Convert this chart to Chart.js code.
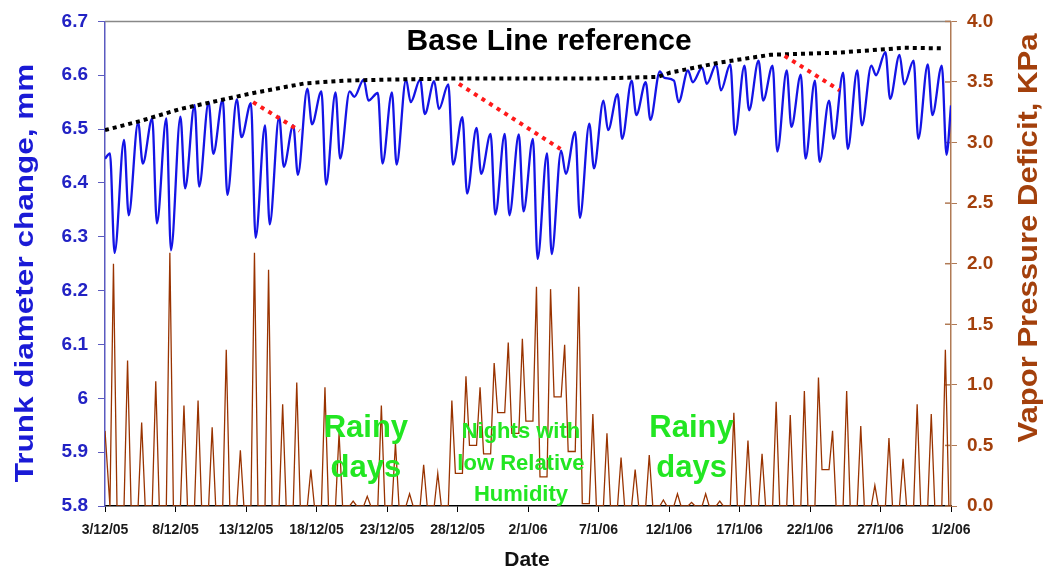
<!DOCTYPE html>
<html>
<head>
<meta charset="utf-8">
<script src="https://cdn.jsdelivr.net/npm/chart.js@4.4.1/dist/chart.umd.min.js"></script>
<style>
  html, body { margin: 0; padding: 0; background: #fff; }
  #wrap { width: 1047px; height: 572px; }
</style>
</head>
<body>
<div id="wrap"><canvas id="myChart" width="1047" height="572"></canvas></div>
<script>
// x axis: days since 3/12/05, one tick every 5 days
const dateLabels = ["3/12/05", "8/12/05", "13/12/05", "18/12/05", "23/12/05", "28/12/05",
  "2/1/06", "7/1/06", "12/1/06", "17/1/06", "22/1/06", "27/1/06", "1/2/06"];

// Trunk diameter (mm): morning maximum and afternoon minimum of each day
const trunkStart = 6.445;
const trunkPeak = [6.455, 6.48, 6.513, 6.52, 6.52, 6.523, 6.545, 6.55, 6.555, 6.555,
  6.548, 6.507, 6.523, 6.507, 6.575, 6.57, 6.568, 6.57, 6.592, 6.567,
  6.568, 6.592, 6.592, 6.589, 6.583, 6.522, 6.502, 6.491, 6.491, 6.49,
  6.482, 6.455, 6.46, 6.495, 6.51, 6.553, 6.565, 6.59, 6.587, 6.607,
  6.59, 6.609, 6.614, 6.62, 6.62, 6.618, 6.627, 6.618, 6.609, 6.601,
  6.59, 6.553, 6.605, 6.609, 6.618, 6.643, 6.638, 6.627, 6.62, 6.618];
const trunkTrough = [6.27, 6.34, 6.436, 6.325, 6.275, 6.39, 6.393, 6.454, 6.378, 6.485,
  6.298, 6.323, 6.43, 6.415, 6.509, 6.397, 6.445, 6.56, 6.553, 6.436,
  6.434, 6.55, 6.528, 6.537, 6.434, 6.38, 6.417, 6.341, 6.34, 6.347,
  6.259, 6.268, 6.417, 6.335, 6.427, 6.498, 6.482, 6.526, 6.517, 6.595,
  6.55, 6.587, 6.584, 6.572, 6.489, 6.535, 6.553, 6.458, 6.504, 6.445,
  6.439, 6.482, 6.463, 6.507, 6.6, 6.556, 6.583, 6.482, 6.526, 6.452];
const trunkEnd = 6.544;

// Vapour pressure deficit (KPa): night level before each day and afternoon peak
const vpdStart = 0.62;
const vpdNight = [0, 0, 0, 0, 0, 0, 0, 0, 0, 0,
  0, 0, 0, 0, 0, 0, 0, 0, 0, 0,
  0, 0, 0, 0, 0, 0.27, 0.5, 0.43, 0.77, 0.6,
  0.7, 0.24, 0.9, 0.45, 0.02, 0, 0, 0, 0, 0,
  0, 0, 0, 0, 0, 0, 0, 0, 0, 0,
  0, 0.3, 0, 0, 0, 0, 0, 0, 0, 0];
const vpdPeak = [2.0, 1.2, 0.69, 1.03, 2.09, 0.83, 0.87, 0.65, 1.29, 0.46,
  2.09, 1.95, 0.84, 1.02, 0.3, 0.98, 0.6, 0.04, 0.08, 0.83,
  0.52, 0.1, 0.34, 0.27, 0.87, 1.07, 0.98, 1.18, 1.35, 1.38,
  1.81, 1.79, 1.33, 1.81, 0.76, 0.6, 0.4, 0.3, 0.42, 0.05,
  0.1, 0.03, 0.1, 0.04, 0.77, 0.54, 0.43, 0.86, 0.75, 0.95,
  1.06, 0.62, 0.95, 0.66, 0.17, 0.56, 0.39, 0.84, 0.76, 1.29];
const vpdEnd = 0;

// Black dotted base line reference
const baseDays = [0, 2.5, 5.3, 8.4, 10.7, 14.2, 17, 20.2, 25, 30, 35, 39.2, 40.1, 43.7, 47.2, 52, 56.7, 59.4];
const baseVals = [6.498, 6.515, 6.537, 6.555, 6.568, 6.585, 6.59, 6.592, 6.594, 6.594, 6.594, 6.597, 6.605, 6.624, 6.638, 6.642, 6.651, 6.65];

// Red dotted shrinkage segments
const redStartDays = [10.5, 25.1, 48.2];
const redStartVals = [6.55, 6.584, 6.636];
const redEndDays = [13.8, 32.3, 52.1];
const redEndVals = [6.497, 6.463, 6.572];

const trunkData = [{ x: 0, y: trunkStart }];
trunkPeak.forEach((v, d) => {
  trunkData.push({ x: d + 0.35, y: v });
  trunkData.push({ x: d + 0.68, y: trunkTrough[d] });
});
trunkData.push({ x: 60, y: trunkEnd });

const vpdData = [{ x: 0, y: vpdStart }];
vpdPeak.forEach((v, d) => {
  const nextNight = d + 1 < vpdNight.length ? vpdNight[d + 1] : vpdEnd;
  vpdData.push({ x: d + 0.35, y: vpdNight[d] });
  vpdData.push({ x: d + 0.6, y: v });
  vpdData.push({ x: d + 0.85, y: nextNight });
});
vpdData.push({ x: 60, y: vpdEnd });

const baseData = baseDays.map((d, i) => ({ x: d, y: baseVals[i] }));

const redSets = redStartDays.map((d, i) => ({
  data: [{ x: d, y: redStartVals[i] }, { x: redEndDays[i], y: redEndVals[i] }],
  borderColor: "#ff1a1a",
  borderWidth: 4,
  borderDash: [4, 5],
  pointRadius: 0,
  yAxisID: "y",
}));

const BLUE = "#1414e6";
const BROWN = "#993300";
const GREEN = "#22e622";

const textPlugin = {
  id: "texts",
  beforeDatasetsDraw(chart) {
    const { ctx, chartArea } = chart;
    ctx.save();
    ctx.strokeStyle = "#888";
    ctx.lineWidth = 1.5;
    ctx.beginPath();
    ctx.moveTo(chartArea.left, chartArea.top);
    ctx.lineTo(chartArea.right, chartArea.top);
    ctx.stroke();
    // right axis ticks cross the axis line
    const r = chart.scales.y1;
    ctx.strokeStyle = "#b07a55";
    ctx.lineWidth = 1.5;
    r.ticks.forEach((t) => {
      const y = r.getPixelForValue(t.value);
      ctx.beginPath();
      ctx.moveTo(r.left - 6, y);
      ctx.lineTo(r.left, y);
      ctx.stroke();
    });
    ctx.restore();
  },
  afterDraw(chart) {
    const { ctx } = chart;
    const xs = chart.scales.x;
    const ys = chart.scales.y1;
    ctx.save();
    ctx.textAlign = "center";
    ctx.textBaseline = "alphabetic";

    // title inside the plot
    ctx.fillStyle = "#000";
    ctx.font = "bold 30px Arial, 'Liberation Sans', sans-serif";
    ctx.fillText("Base Line reference", xs.getPixelForValue(31.5), 50);

    // green notes
    ctx.fillStyle = GREEN;
    ctx.font = "bold 31px Arial, 'Liberation Sans', sans-serif";
    ctx.fillText("Rainy", xs.getPixelForValue(18.5), ys.getPixelForValue(0.57));
    ctx.fillText("days", xs.getPixelForValue(18.5), ys.getPixelForValue(0.24));
    ctx.fillText("Rainy", xs.getPixelForValue(41.6), ys.getPixelForValue(0.57));
    ctx.fillText("days", xs.getPixelForValue(41.6), ys.getPixelForValue(0.24));
    ctx.font = "bold 22px Arial, 'Liberation Sans', sans-serif";
    ctx.fillText("Nights with", xs.getPixelForValue(29.5), ys.getPixelForValue(0.56));
    ctx.fillText("low Relative", xs.getPixelForValue(29.5), ys.getPixelForValue(0.30));
    ctx.fillText("Humidity", xs.getPixelForValue(29.5), ys.getPixelForValue(0.04));

    // x axis title
    ctx.fillStyle = "#111";
    ctx.font = "bold 21px Arial, 'Liberation Sans', sans-serif";
    ctx.fillText("Date", (xs.left + xs.right) / 2 - 1, 566);

    // left axis title
    ctx.save();
    ctx.translate(33, 273);
    ctx.rotate(-Math.PI / 2);
    ctx.scale(1.26, 1);
    ctx.fillStyle = "#1a1ad6";
    ctx.font = "bold 25px Arial, 'Liberation Sans', sans-serif";
    ctx.fillText("Trunk diameter change, mm", 0, 0);
    ctx.restore();

    // right axis title
    ctx.save();
    ctx.translate(1037, 238);
    ctx.rotate(-Math.PI / 2);
    ctx.scale(1.15, 1);
    ctx.fillStyle = "#a3400c";
    ctx.font = "bold 27px Arial, 'Liberation Sans', sans-serif";
    ctx.fillText("Vapor Pressure Deficit, KPa", 0, 0);
    ctx.restore();

    ctx.restore();
  },
};

const canvas = document.getElementById("myChart");

new Chart(canvas, {
  type: "line",
  data: {
    datasets: [
      ...redSets,
      {
        data: baseData,
        borderColor: "#000",
        borderWidth: 4,
        borderDash: [4, 4],
        pointRadius: 0,
        yAxisID: "y",
      },
      {
        data: trunkData,
        borderColor: BLUE,
        borderWidth: 2.3,
        pointRadius: 0,
        cubicInterpolationMode: "monotone",
        yAxisID: "y",
      },
      {
        data: vpdData,
        borderColor: BROWN,
        borderWidth: 1.3,
        pointRadius: 0,
        yAxisID: "y1",
      },
    ],
  },
  options: {
    responsive: false,
    animation: false,
    parsing: true,
    layout: { padding: { top: 16, left: 0, right: 0, bottom: 0 } },
    plugins: {
      legend: { display: false },
      tooltip: { enabled: false },
    },
    scales: {
      x: {
        type: "linear",
        position: "bottom",
        min: 0,
        max: 60,
        afterFit: (s) => { s.height = 66; },
        ticks: {
          stepSize: 5,
          autoSkip: false,
          maxRotation: 0,
          padding: 10,
          color: "#1a1a1a",
          font: { family: "Arial, 'Liberation Sans', sans-serif", size: 14, weight: "bold" },
          callback: (v) => dateLabels[Math.round(v / 5)] ?? "",
        },
        grid: { drawOnChartArea: false, tickLength: 6, tickColor: "#000" },
        border: { color: "#000", width: 1.5 },
      },
      y: {
        position: "left",
        min: 5.8,
        max: 6.7,
        afterFit: (s) => { s.width = 105; },
        ticks: {
          stepSize: 0.1,
          padding: 10,
          color: "#2222c4",
          font: { family: "Arial, 'Liberation Sans', sans-serif", size: 19, weight: "bold" },
          callback: (v) => String(parseFloat(v.toFixed(1))),
        },
        grid: { drawOnChartArea: false, tickLength: 7, tickColor: "#5a5ac0" },
        border: { color: "#5a5ac0", width: 1.5 },
      },
      y1: {
        position: "right",
        min: 0,
        max: 4,
        afterFit: (s) => { s.width = 96; },
        ticks: {
          stepSize: 0.5,
          padding: 10,
          color: "#a3400c",
          font: { family: "Arial, 'Liberation Sans', sans-serif", size: 19, weight: "bold" },
          callback: (v) => v.toFixed(1),
        },
        grid: { drawOnChartArea: false, tickLength: 6, tickColor: "#b07a55" },
        border: { color: "#b07a55", width: 1.5 },
      },
    },
  },
  plugins: [textPlugin],
});
</script>
</body>
</html>
